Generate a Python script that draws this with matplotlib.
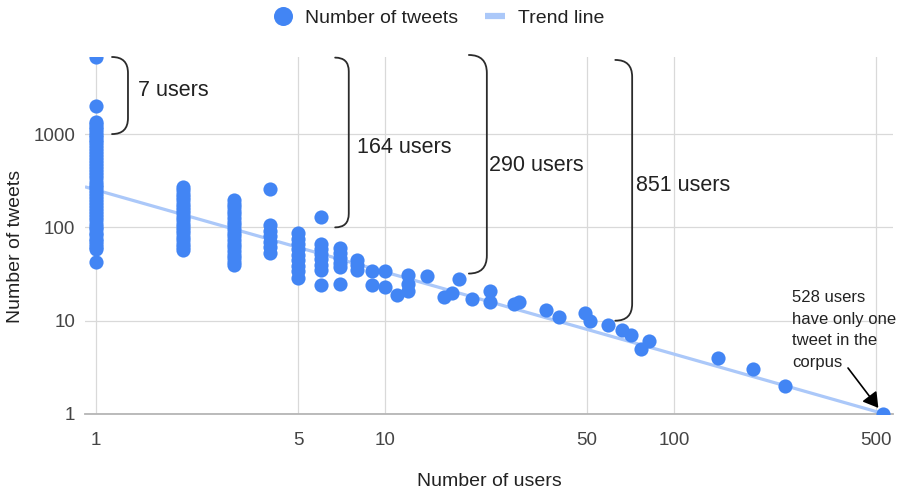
import matplotlib
matplotlib.use("Agg")
import matplotlib.pyplot as plt
from matplotlib.path import Path
from matplotlib.patches import PathPatch
from matplotlib.lines import Line2D
from matplotlib.transforms import Affine2D

plt.rcParams['font.family'] = ['Liberation Sans', 'DejaVu Sans']

# ---- data: number of users (x) sharing a given number of tweets (y) ----
tweets_1 = [6700, 2000, 1350, 1280, 1200, 1130, 1060, 980, 925, 870, 815, 760,
            710, 660, 615, 570, 530, 490, 455, 420, 390, 360, 335, 310, 288,
            268, 250, 232, 215, 200, 186, 172, 160, 148, 138, 128, 119, 110,
            102, 95, 88, 82, 76, 71, 66, 62, 58, 43]
tweets_2 = [270, 250, 230, 212, 195, 180, 166, 153, 141, 130, 120, 110, 101,
            93, 86, 79, 73, 67, 62, 57]
tweets_3 = [197, 180, 165, 151, 138, 126, 115, 105, 96, 88, 80, 73, 67, 61,
            56, 51, 47, 43, 40]
tweets_4 = [261, 106, 92, 80, 70, 61, 53]
tweets_5 = [86, 76, 66, 58, 51, 45, 39, 34, 29]
tweets_6 = [130, 67, 59, 52, 46, 40, 35, 24]
tweets_7 = [60, 53, 47, 42, 38, 25]
tweets_8 = [45, 40, 35]
tweets_9 = [34, 24]
tweets_10 = [34, 23]

tail_users = [11, 12, 12, 12, 14, 16, 17, 18, 20, 23, 23, 28, 29, 36, 40, 49,
              51, 59, 66, 71, 77, 82, 142, 188, 241, 528]
tail_tweets = [19, 31, 25, 21, 30, 18, 20, 28, 17, 21, 16, 15, 16, 13, 11, 12,
               10, 9, 8, 7, 5, 6, 4, 3, 2, 1]

column_users = [1, 2, 3, 4, 5, 6, 7, 8, 9, 10]
column_tweets = [tweets_1, tweets_2, tweets_3, tweets_4, tweets_5, tweets_6,
                 tweets_7, tweets_8, tweets_9, tweets_10]

# power-law trend line: tweets = coef * users ** exponent
trend_coef = 252
trend_exp = -0.88

x_ticks = [1, 5, 10, 50, 100, 500]
y_ticks = [1, 10, 100, 1000]

# cumulative-user brackets: x extent, top/bottom in tweets, label anchor
bracket_x_left = [1.136, 6.72, 19.5, 62.6]
bracket_x_right = [1.29, 7.49, 22.5, 71.6]
bracket_top = [6700, 6600, 7040, 6230]
bracket_bottom = [1000, 100, 32, 10]
bracket_label_x = [1.40, 8.0, 22.9, 73.9]
bracket_label_y = [2920, 710, 466, 278]
bracket_labels = ["7 users", "164 users", "290 users", "851 users"]

# ---- figure ----
W, H = 901, 492
fig = plt.figure(figsize=(W / 100, H / 100), dpi=100)
ax = fig.add_axes([85 / W, 1 - 414 / H, (893 - 85) / W, (414 - 57) / H])
px = Affine2D().scale(1 / W, -1 / H).translate(0, 1) + fig.transFigure

blue = '#4285F4'
trend_color = '#abc8f9'

ax.set_xscale('log')
ax.set_yscale('log')
ax.set_xlim(0.916, 572)
ax.set_ylim(1, 6700)

ax.set_xticks(x_ticks)
ax.set_xticklabels([str(v) for v in x_ticks])
ax.set_yticks(y_ticks)
ax.set_yticklabels([str(v) for v in y_ticks])
ax.minorticks_off()
ax.tick_params(axis='both', length=0, labelsize=13.5, labelcolor='#444444')
ax.tick_params(axis='x', pad=13)
ax.tick_params(axis='y', pad=7)

ax.grid(True, color='#d9d9d9', linewidth=0.9)
ax.set_axisbelow(True)
for side in ['top', 'right', 'left']:
    ax.spines[side].set_visible(False)
ax.spines['bottom'].set_color('#b5b5b5')
ax.spines['bottom'].set_linewidth(1.3)

# trend line
tx = [0.916, 572]
ty = [trend_coef * v ** trend_exp for v in tx]
ax.plot(tx, ty, color=trend_color, linewidth=2.3, solid_capstyle='butt', zorder=2)

# scatter points
for u, ts in zip(column_users, column_tweets):
    ax.plot([u] * len(ts), ts, linestyle='none', marker='o', ms=10.2,
            color=blue, markeredgewidth=0, zorder=3)
ax.plot(tail_users, tail_tweets, linestyle='none', marker='o', ms=10.2,
        color=blue, markeredgewidth=0, zorder=3)

# axis titles
ax.set_xlabel('Number of users', fontsize=14, color='#222222')
ax.xaxis.set_label_coords(0.5, (414 - 481) / 357)
ax.xaxis.label.set_va('center')
ax.set_ylabel('Number of tweets', fontsize=14, color='#222222')
ax.yaxis.set_label_coords((16 - 85) / 808, (414 - 246) / 357)
ax.yaxis.label.set_va('center')

# brackets with their user counts
inv = fig.transFigure.inverted()
for xl, xr, yt, yb, lx, ly, lab in zip(bracket_x_left, bracket_x_right,
                                       bracket_top, bracket_bottom,
                                       bracket_label_x, bracket_label_y,
                                       bracket_labels):
    (l, t) = ax.transData.transform((xl, yt))
    (r, b) = ax.transData.transform((xr, yb))
    rad = r - l
    verts = [(l, t), (r, t), (r, t - rad), (r, b + rad), (r, b), (l, b)]
    codes = [Path.MOVETO, Path.CURVE3, Path.CURVE3, Path.LINETO,
             Path.CURVE3, Path.CURVE3]
    patch = PathPatch(Path(inv.transform(verts), codes), facecolor='none',
                      edgecolor='#2b2b2b', linewidth=1.3,
                      transform=fig.transFigure, clip_on=False,
                      capstyle='round', joinstyle='round')
    fig.add_artist(patch)
    ax.text(lx, ly, lab, fontsize=15.5, color='#222222', ha='left',
            va='center', clip_on=False)

# note on the single-tweet users
fig.text(792, 290, "528 users\nhave only one\ntweet in the\ncorpus",
         transform=px, fontsize=12, color='#222222', ha='left', va='top',
         linespacing=1.55)
ax.annotate('', xy=(528, 1), xycoords='data', xytext=(848, 368),
            textcoords=px,
            arrowprops=dict(arrowstyle='-|>,head_length=0.75,head_width=0.45',
                            color='black', linewidth=1.2, shrinkA=0,
                            shrinkB=5.5, mutation_scale=12),
            annotation_clip=False)

# legend
handles = [Line2D([], [], linestyle='none', marker='o', ms=13.7, color=blue,
                  markeredgewidth=0),
           Line2D([], [], color=trend_color, linewidth=4.5,
                  solid_capstyle='butt')]
fig.legend(handles, ['Number of tweets', 'Trend line'], loc='center',
           bbox_to_anchor=(438.5 / W, 1 - 18 / H), ncol=2, frameon=False,
           fontsize=14, handlelength=1.0, handletextpad=0.65,
           columnspacing=1.4, borderpad=0, labelcolor='#222222')

fig.savefig('out.png', dpi=100)
